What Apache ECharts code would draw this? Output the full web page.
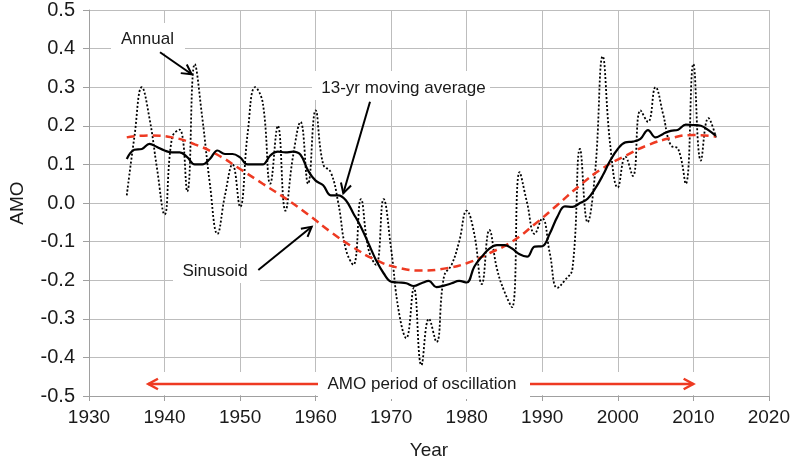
<!DOCTYPE html>
<html>
<head>
<meta charset="utf-8">
<script src="https://cdn.jsdelivr.net/npm/echarts@6/dist/echarts.min.js"></script>
<style>
html,body{margin:0;padding:0;background:#fff;}
#c{width:793px;height:465px;}
</style>
</head>
<body>
<div id="c"></div>
<script>
// ---- data ----
var years = [];
for (var y = 1935; y <= 2013; y++) years.push(y);

var annual = [0.02,0.17,0.30,0.22,0.09,-0.03,0.17,0.19,0.03,0.36,
  0.22,0.05,-0.08,0.02,0.10,-0.01,0.18,0.30,0.26,0.05,
  0.20,-0.02,0.12,0.21,0.05,0.24,0.10,0.08,0.00,-0.12,
  -0.16,0.01,-0.12,-0.16,0.01,-0.12,-0.28,-0.35,-0.22,-0.42,
  -0.30,-0.36,-0.19,-0.16,-0.10,-0.02,-0.08,-0.21,-0.07,-0.17,
  -0.23,-0.27,0.08,0.00,-0.08,-0.04,-0.13,-0.22,-0.20,-0.17,
  0.14,-0.05,0.08,0.38,0.15,0.04,0.12,0.07,0.24,0.21,
  0.30,0.23,0.15,0.14,0.05,0.36,0.11,0.22,0.17];

var movingAvg = [0.114,0.138,0.140,0.153,0.145,0.136,0.131,0.131,0.119,0.100,
  0.100,0.114,0.136,0.127,0.127,0.118,0.100,0.100,0.100,0.123,
  0.133,0.131,0.133,0.125,0.084,0.058,0.046,0.020,0.020,0.007,
  -0.027,-0.062,-0.105,-0.148,-0.182,-0.204,-0.206,-0.208,-0.215,-0.208,
  -0.202,-0.218,-0.214,-0.208,-0.202,-0.206,-0.165,-0.139,-0.118,-0.109,
  -0.109,-0.118,-0.133,-0.139,-0.113,-0.112,-0.079,-0.036,-0.009,-0.010,
  0.000,0.011,0.037,0.071,0.110,0.140,0.157,0.159,0.166,0.189,
  0.170,0.179,0.187,0.190,0.203,0.202,0.200,0.189,0.174];

var sinYears = [1935,1938,1941,1944,1947,1950,1953,1956,1959,1962,1965,1968,1971,1974,
  1977,1980,1983,1986,1989,1992,1995,1998,2001,2004,2007,2010,2013];
var sinValues = [0.170,0.175,0.170,0.152,0.125,0.088,0.050,0.012,-0.030,-0.075,-0.115,-0.148,-0.168,-0.175,
  -0.170,-0.156,-0.130,-0.100,-0.055,-0.005,0.046,0.090,0.122,0.150,0.168,0.176,0.172];

var xTicks = [1930,1940,1950,1960,1970,1980,1990,2000,2010,2020];
var yTicks = [-0.5,-0.4,-0.3,-0.2,-0.1,0.0,0.1,0.2,0.3,0.4,0.5];

function pairs(xs, vs){ return xs.map(function(x,i){ return [x, vs[i]]; }); }

// ---- chart ----
var chart = echarts.init(document.getElementById('c'), null, {renderer:'canvas'});
var FONT = 'Liberation Sans, Arial, sans-serif';
var TXT = '#1a1a1a';
var RED = '#ee3a22';

function arrow(x1,y1,x2,y2,color,w,len){
  var a = Math.atan2(y2-y1, x2-x1);
  var s = 0.5;
  var p1 = [x2 - len*Math.cos(a - s), y2 - len*Math.sin(a - s)];
  var p2 = [x2 - len*Math.cos(a + s), y2 - len*Math.sin(a + s)];
  return [
    {type:'line', z:101, shape:{x1:x1,y1:y1,x2:x2,y2:y2}, style:{stroke:color,lineWidth:w}},
    {type:'polyline', z:101, shape:{points:[p1,[x2,y2],p2]}, style:{stroke:color,lineWidth:w,fill:null,lineJoin:'miter'}}
  ];
}
function box(x,y,w,h){
  return {type:'rect', z:100, shape:{x:x,y:y,width:w,height:h}, style:{fill:'#fff'}};
}
function label(t,x,y){
  return {type:'text', z:102, x:x, y:y, style:{text:t, font:'17px '+FONT, fill:TXT, textAlign:'center', textVerticalAlign:'middle'}};
}

var g = [];
g.push(box(111,23,74,30));
g.push(box(312,71,178,29));
g.push(box(173,248,87,35));
g.push(box(140,372,560,23));
g.push(box(318,372,212,27));
g = g.concat(arrow(160,52.3,191.7,74.3,'#000',2,11));
g = g.concat(arrow(370,101.7,343.3,193.3,'#000',2,11));
g = g.concat(arrow(258.3,270,311.7,226.7,'#000',2,11));
g = g.concat(arrow(318,384,148.3,384,RED,2.5,11));
g = g.concat(arrow(530,384,693.3,384,RED,2.5,11));
g.push(label('Annual',147.5,39.5));
g.push(label('13-yr moving average',403.5,88));
g.push(label('Sinusoid',215,271.5));
g.push(label('AMO period of oscillation',422,384));

chart.setOption({
  animation:false,
  backgroundColor:'#fff',
  grid:{left:86, right:23, top:9, bottom:68, containLabel:false},
  xAxis:{
    type:'value', min:xTicks[0], max:xTicks[xTicks.length-1], interval:10,
    name:'Year', nameLocation:'middle', nameGap:45,
    nameTextStyle:{fontFamily:FONT, fontSize:19, color:TXT},
    axisLine:{show:true, onZero:false, lineStyle:{color:'#a0a0a0', width:1}},
    axisTick:{show:true, length:5, lineStyle:{color:'#a0a0a0'}},
    splitLine:{show:true, lineStyle:{color:'#bdbdbd', width:1}},
    axisLabel:{fontFamily:FONT, fontSize:19, color:TXT, margin:12, formatter:function(v){return String(v);}}
  },
  yAxis:{
    type:'value', min:yTicks[0], max:yTicks[yTicks.length-1], interval:0.1,
    name:'AMO', nameLocation:'middle', nameGap:62, nameRotate:90,
    nameTextStyle:{fontFamily:FONT, fontSize:19, color:TXT},
    axisLine:{show:true, onZero:false, lineStyle:{color:'#a0a0a0', width:1}},
    axisTick:{show:true, length:6, lineStyle:{color:'#a0a0a0'}},
    splitLine:{show:true, lineStyle:{color:'#bdbdbd', width:1}},
    axisLabel:{fontFamily:FONT, fontSize:20, color:TXT, margin:14, formatter:function(v){return v.toFixed(1);}}
  },
  series:[
    {type:'line', name:'Annual', data:pairs(years, annual), smooth:0.45, symbol:'none',
      lineStyle:{color:'#000', width:1.8, type:[2,2]}, z:3},
    {type:'line', name:'Sinusoid', data:pairs(sinYears, sinValues), smooth:0.5, symbol:'none',
      lineStyle:{color:RED, width:2.5, type:[8,5]}, z:4},
    {type:'line', name:'13-yr moving average', data:pairs(years, movingAvg), smooth:0.4, symbol:'none',
      lineStyle:{color:'#000', width:2.2}, z:5}
  ],
  graphic:g
});
</script>
</body>
</html>
